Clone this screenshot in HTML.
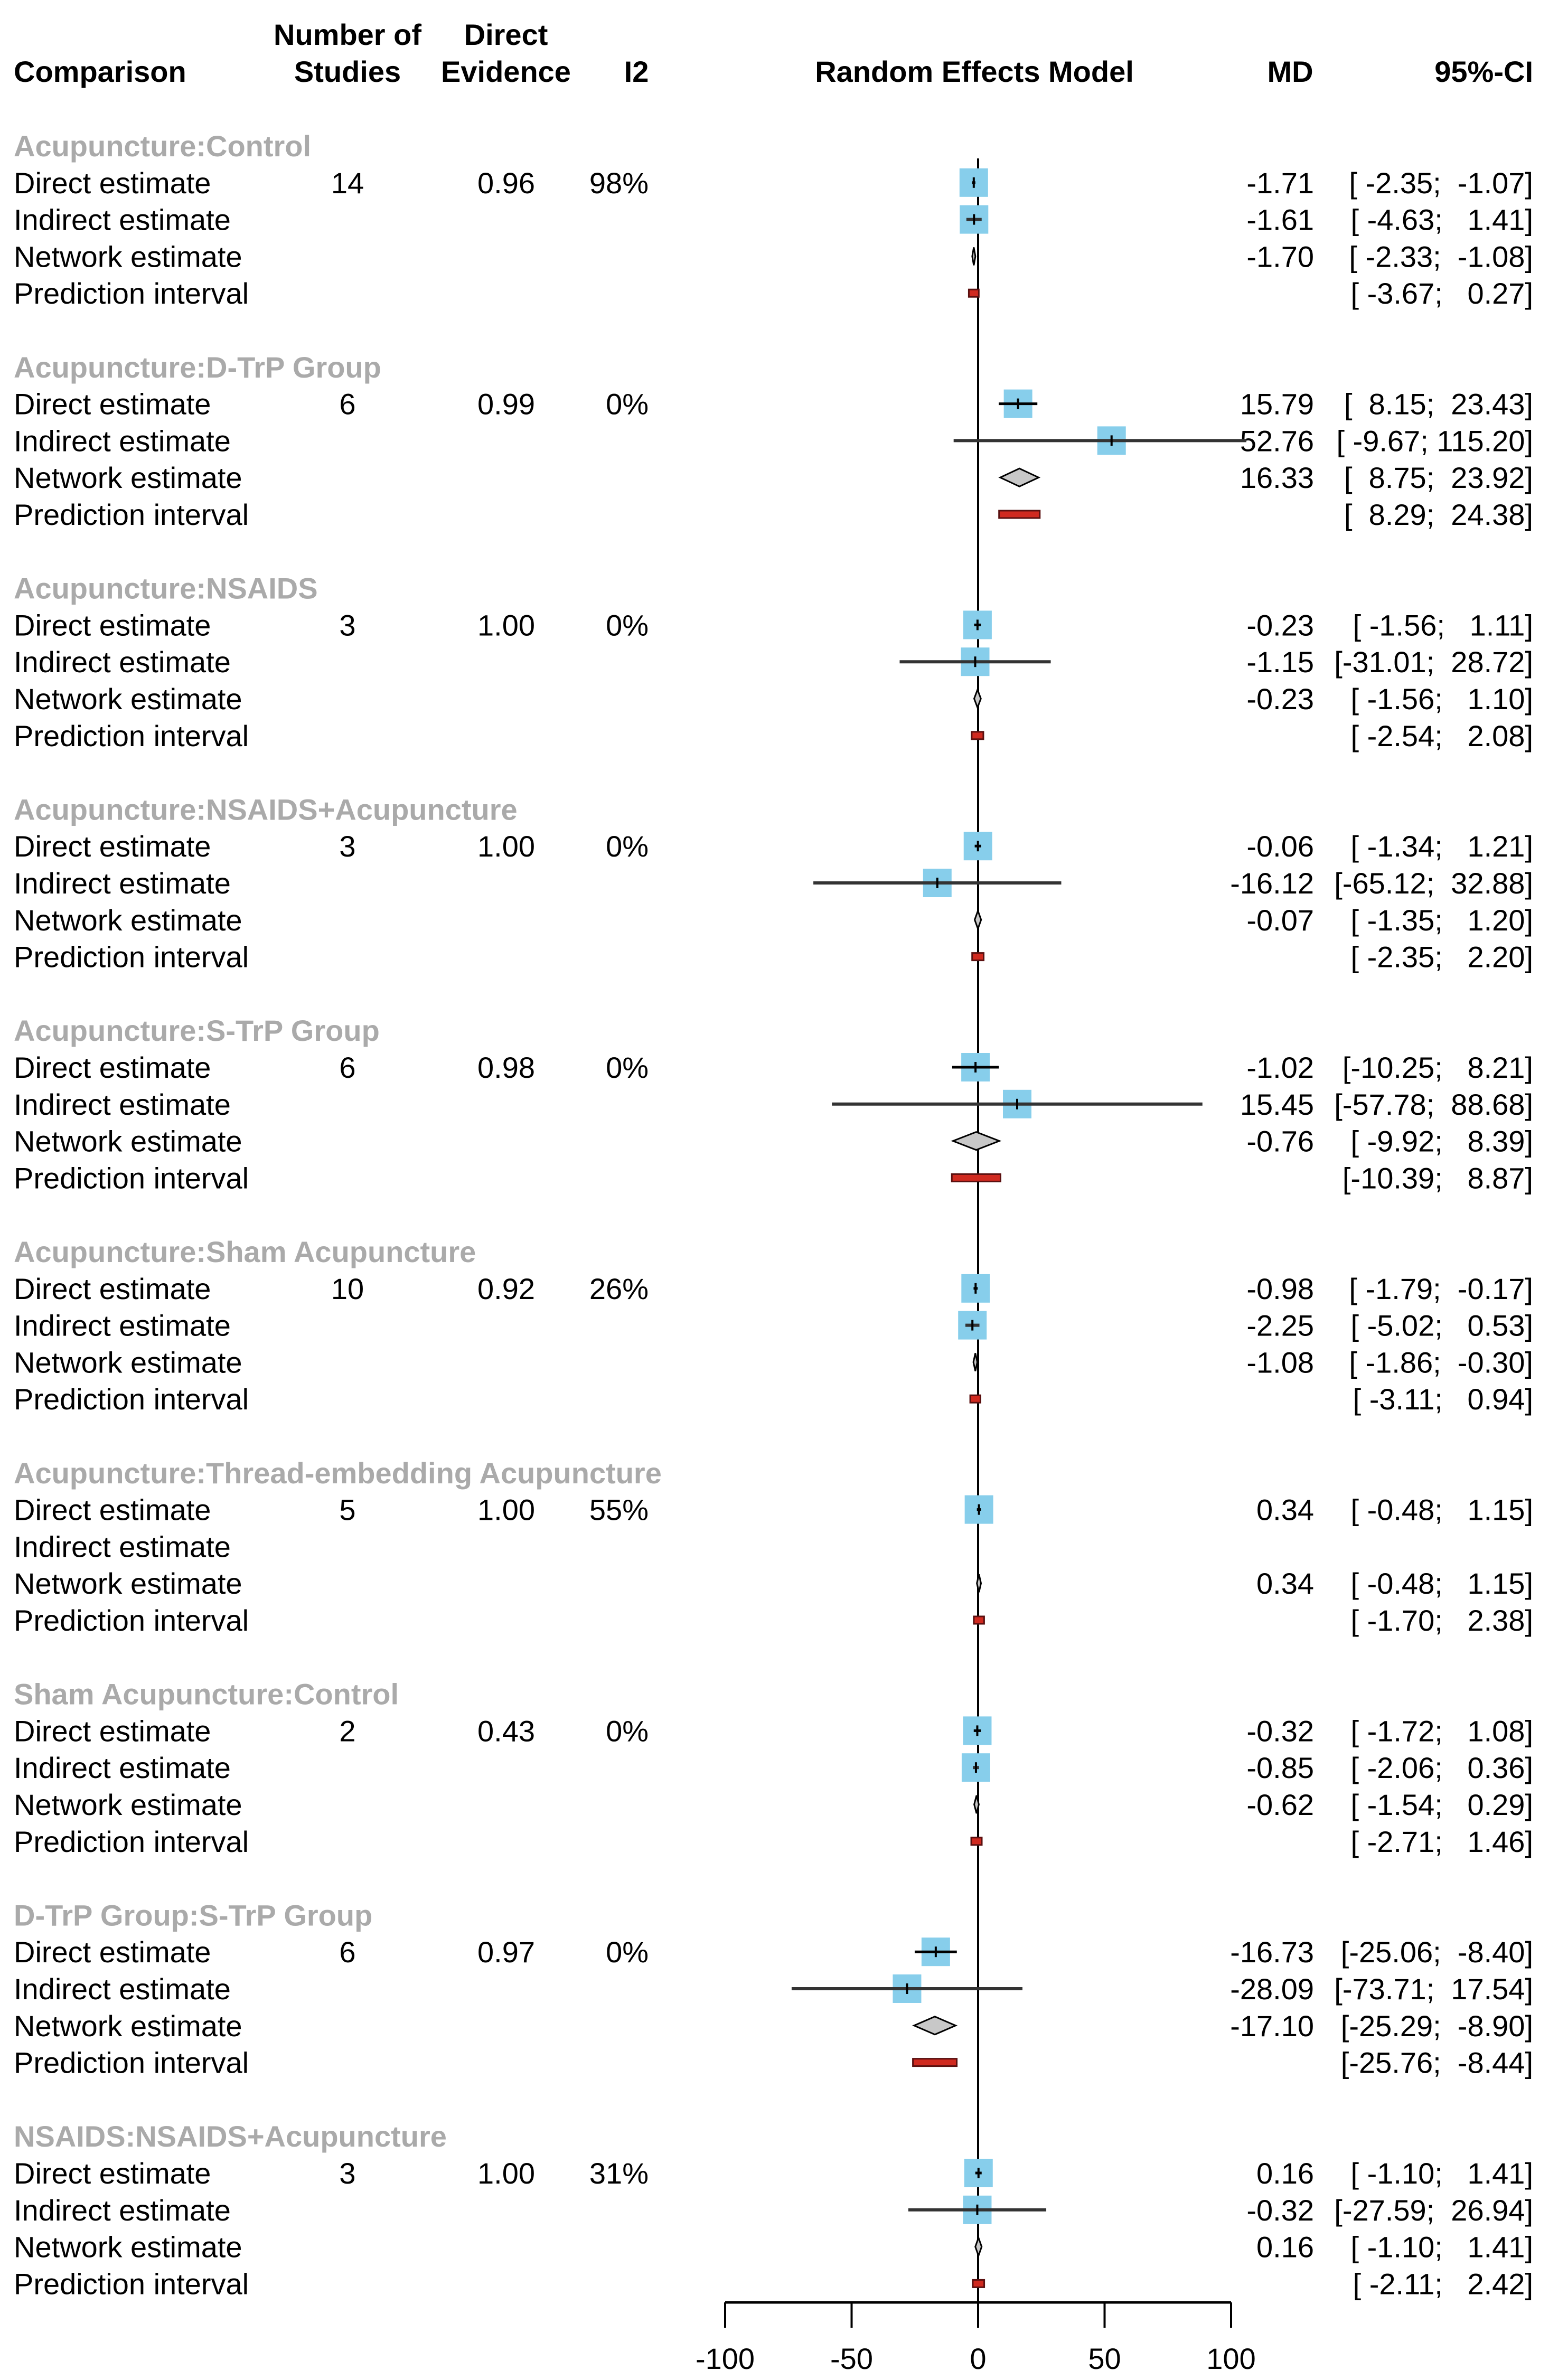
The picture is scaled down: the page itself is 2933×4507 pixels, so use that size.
<!DOCTYPE html>
<html><head><meta charset="utf-8"><style>
html,body{margin:0;padding:0;background:#fff;}
svg{display:block;font-family:"Liberation Sans",Arial,sans-serif;}
text{white-space:pre;}
</style></head><body>
<svg id="chart" width="2933" height="4507" viewBox="0 0 2933 4507" xmlns="http://www.w3.org/2000/svg">
<g font-weight="bold" font-size="56" fill="#000">
<text x="26" y="155">Comparison</text>
<text x="658" y="85" text-anchor="middle">Number of</text>
<text x="658" y="155" text-anchor="middle">Studies</text>
<text x="958" y="85" text-anchor="middle">Direct</text>
<text x="958" y="155" text-anchor="middle">Evidence</text>
<text x="1205" y="155" text-anchor="middle">I2</text>
<text x="1845" y="155" text-anchor="middle">Random Effects Model</text>
<text x="2443" y="155" text-anchor="middle">MD</text>
<text x="2903" y="155" text-anchor="end">95%-CI</text>
</g>
<g id="plot"></g>
</svg>
<script>
const groups=["Acupuncture:Control","Acupuncture:D-TrP Group","Acupuncture:NSAIDS","Acupuncture:NSAIDS+Acupuncture","Acupuncture:S-TrP Group","Acupuncture:Sham Acupuncture","Acupuncture:Thread-embedding Acupuncture","Sham Acupuncture:Control","D-TrP Group:S-TrP Group","NSAIDS:NSAIDS+Acupuncture"];
const nStudies=["14","6","3","3","6","10","5","2","6","3"];
const directEv=["0.96","0.99","1.00","1.00","0.98","0.92","1.00","0.43","0.97","1.00"];
const i2=["98%","0%","0%","0%","0%","26%","55%","0%","0%","31%"];
const directMD=[-1.71,15.79,-0.23,-0.06,-1.02,-0.98,0.34,-0.32,-16.73,0.16];
const directLo=[-2.35,8.15,-1.56,-1.34,-10.25,-1.79,-0.48,-1.72,-25.06,-1.10];
const directHi=[-1.07,23.43,1.11,1.21,8.21,-0.17,1.15,1.08,-8.40,1.41];
const indirMD=[-1.61,52.76,-1.15,-16.12,15.45,-2.25,null,-0.85,-28.09,-0.32];
const indirLo=[-4.63,-9.67,-31.01,-65.12,-57.78,-5.02,null,-2.06,-73.71,-27.59];
const indirHi=[1.41,115.20,28.72,32.88,88.68,0.53,null,0.36,17.54,26.94];
const netMD=[-1.70,16.33,-0.23,-0.07,-0.76,-1.08,0.34,-0.62,-17.10,0.16];
const netLo=[-2.33,8.75,-1.56,-1.35,-9.92,-1.86,-0.48,-1.54,-25.29,-1.10];
const netHi=[-1.08,23.92,1.10,1.20,8.39,-0.30,1.15,0.29,-8.90,1.41];
const predLo=[-3.67,8.29,-2.54,-2.35,-10.39,-3.11,-1.70,-2.71,-25.76,-2.11];
const predHi=[0.27,24.38,2.08,2.20,8.87,0.94,2.38,1.46,-8.44,2.42];
const ticks=[-100,-50,0,50,100];

const NS="http://www.w3.org/2000/svg";
const g=document.getElementById('plot');
const X=v=>1852+v*4.79;
const clipX=v=>Math.max(1300,Math.min(2360,X(v)));
const U=69.8, Y0=276, AXY=4360;
function el(t,a,txt){const e=document.createElementNS(NS,t);for(const k in a)e.setAttribute(k,a[k]);if(txt!=null)e.textContent=txt;g.appendChild(e);return e;}
const f=v=>v.toFixed(2);
const pad=(s,n)=>' '.repeat(Math.max(0,n-s.length))+s;

const zl=el('line',{x1:X(0),x2:X(0),y1:300,y2:AXY,stroke:'#000','stroke-width':4});



groups.forEach((name,i)=>{
  const gy=Y0+i*6*U;
  const t=el('text',{x:26,y:gy+20,'font-size':56,'font-weight':'bold',fill:'#aaaaaa'},name);
  
  
  ["Direct estimate","Indirect estimate","Network estimate","Prediction interval"].forEach((lb,r)=>{
    const y=gy+(r+1)*U;
    const l=el('text',{x:26,y:y+20,'font-size':56},lb);
    
    
  });
  const y1=gy+U;
  [[658,'middle',nStudies[i]],[1013,'end',directEv[i]],[1228,'end',i2[i]]].forEach(c=>{
    const e=el('text',{x:c[0],y:y1+20,'font-size':56,'text-anchor':c[1]},c[2]);
    
    
  });
  const rows=[[directMD[i],directLo[i],directHi[i]],[indirMD[i],indirLo[i],indirHi[i]],[netMD[i],netLo[i],netHi[i]],[null,predLo[i],predHi[i]]];
  rows.forEach((rw,r)=>{
    const y=gy+(r+1)*U;
    if(rw[1]==null) return;
    if(rw[0]!=null){
      const m=el('text',{x:2488,y:y+20,'font-size':56,'text-anchor':'end'},f(rw[0]));
      
      
    }
    const ci=el('text',{x:2903,y:y+20,'font-size':56,'text-anchor':'end'},'['+pad(f(rw[1]),6)+'; '+pad(f(rw[2]),6)+']');
    
    
    if(r<2){
      const s=54;
      const sq=el('rect',{x:X(rw[0])-s/2,y:y-s/2,width:s,height:s,fill:'#87ceeb'});
      
      
      const ln=el('line',{x1:clipX(rw[1]),x2:clipX(rw[2]),y1:y,y2:y,stroke:r==1?'#333':'#000','stroke-width':r==1?6:5});
      
      
      const tk=el('line',{x1:X(rw[0]),x2:X(rw[0]),y1:y-10,y2:y+10,stroke:'#000','stroke-width':4});
      
      
    } else if(r==2){
      let a=X(rw[1]),b=X(rw[2]),c=X(rw[0]);
      if(b-a<6){a=c-3;b=c+3;}
      const d=el('polygon',{points:`${a},${y} ${c},${y-17} ${b},${y} ${c},${y+17}`,fill:'#c8c8c8',stroke:'#000','stroke-width':3});
      
      
    } else {
      let a=X(rw[1]),b=X(rw[2]);
      if(b-a<16){const m=(a+b)/2;a=m-8;b=m+8;}
      const p=el('rect',{x:a,y:y-7,width:b-a,height:14,fill:'#d02a20',stroke:'#5a1010','stroke-width':3});
      
      
    }
  });
});
const ax=el('line',{x1:X(-100),x2:X(100),y1:AXY,y2:AXY,stroke:'#000','stroke-width':5});


ticks.forEach(t=>{
  const tl=el('line',{x1:X(t),x2:X(t),y1:AXY,y2:AXY+48,stroke:'#000','stroke-width':4});
  
  
  const tx=el('text',{x:X(t),y:AXY+126,'font-size':56,'text-anchor':'middle'},String(t));
  
  
});
</script>
</body></html>
